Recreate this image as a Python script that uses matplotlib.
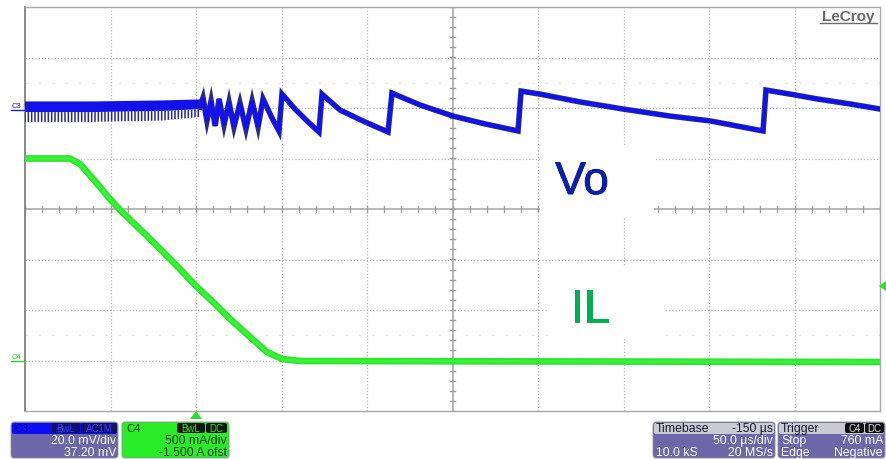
import numpy as np
import matplotlib
matplotlib.use("Agg")
import matplotlib.pyplot as plt
import matplotlib.patheffects as pe
from matplotlib.patches import Rectangle, FancyBboxPatch, Polygon

plt.rcParams['font.family'] = ['Liberation Sans', 'DejaVu Sans']
plt.rcParams['hatch.linewidth'] = 1.1

# ---------------- data (time in us relative to trigger) ----------------
# Vo (C3, AC coupled ripple, mV) - noisy steady-state envelope
vo_noise_t = [-100, -60, -20, 2.3]
vo_noise_core = [-1.6, -1.6, -1.2, -0.4]
vo_noise_upper = [2.6, 2.6, 3.0, 3.4]
vo_noise_lower = [-5.5, -5.5, -5.0, -3.5]

# Vo vertices after load release (burst / skip mode sawtooth)
vo_t = [2.3, 4.1, 6.4, 8.8, 11.2, 13.5, 16.4, 19.3, 22.2, 25.7, 29.2, 32.8,
        36.3, 39.2, 43.9, 48.5, 50.3, 57.9, 65.5, 71.9, 73.7, 84.2, 98.8,
        112.3, 114.6, 131.0, 150.3, 169.0, 188.3, 190.1, 201.2, 224.6, 249.7,
        277.2, 300.6, 331.6, 333.3, 347.4, 363.2, 382.5, 400.0]
vo_mv = [0.4, 4.0, -5.1, 2.8, -7.1, 3.6, -6.7, 2.4, -7.5, 2.0, -8.3, 2.8,
         -7.5, 3.6, -3.2, -9.1, 5.5, -0.4, -5.5, -9.5, 5.5, -0.8, -5.5,
         -9.5, 5.9, 1.2, -3.2, -6.3, -9.1, 6.7, 5.5, 2.4, -0.4,
         -3.2, -5.1, -9.1, 7.1, 5.5, 3.6, 1.6, -0.4]

# IL (C4, A)
il_t = [-100, -73.7, -67.8, -59.1, -50.3, -44.4, -26.9, -12.3, 0.0, 11.1,
        19.9, 31.6, 41.5, 50.3, 60.8, 400.0]
il_a = [2.00, 2.00, 1.945, 1.777, 1.599, 1.490, 1.203, 0.955, 0.738, 0.559,
        0.411, 0.233, 0.084, 0.015, -0.005, -0.015]

# scope settings
c3_scale, c3_pos = 20.0, 2.0      # mV/div, marker position (div)
c4_scale, c4_pos = 0.5, -3.0      # A/div, marker position (div)
trig_level = 0.76                 # A
t_left, t_div = -100.0, 50.0      # us

W, H = 886, 460
fig = plt.figure(figsize=(W / 100, H / 100), dpi=100)
fig.patch.set_facecolor('white')

# ---------------- main grid axes ----------------
ax = fig.add_axes([25 / W, 1 - 412 / H, 855 / W, 404 / H])
ax.set_xlim(t_left, t_left + 10 * t_div)
ax.set_ylim(-4, 4)
ax.set_xticks([]); ax.set_yticks([])
for s in ax.spines.values():
    s.set_color('#a8a8a8'); s.set_linewidth(1.0)
ax.spines['left'].set_color('#808080'); ax.spines['left'].set_linewidth(1.3)

gcol = '#b8b8b8'
for i in range(1, 10):
    tx = t_left + i * t_div
    if i == 5:
        ax.axvline(tx, color='#ababab', lw=1.2, zorder=1)
    else:
        ax.axvline(tx, color=gcol, lw=0.9, ls=(0, (1, 1.6)), zorder=1)
for j in range(-3, 4):
    if j == 0:
        ax.axhline(0, color='#ababab', lw=1.2, zorder=1)
    else:
        ax.axhline(j, color=gcol, lw=0.9, ls=(0, (1, 1.6)), zorder=1)
# faint sub markers
for yy in (2.5, -2.5):
    ax.axhline(yy, color='#e2e2e2', lw=0.8, ls=(0, (2, 10)), zorder=0.5)
# center ticks
tc = t_left + 5 * t_div
for tx in np.arange(t_left, t_left + 10 * t_div + 0.1, t_div / 5):
    ax.plot([tx, tx], [-0.05, 0.05], color='#a0a0a0', lw=1.0, zorder=1)
for yy in np.arange(-4, 4.01, 0.2):
    ax.plot([tc - 1.5, tc + 1.5], [yy, yy], color='#a0a0a0', lw=1.0, zorder=1)

# Vo trace
nt = np.array(vo_noise_t)
ax.fill_between(nt, np.array(vo_noise_lower) / c3_scale + c3_pos,
                np.array(vo_noise_core) / c3_scale + c3_pos,
                facecolor='none', edgecolor='#2a2a88', hatch='|||||', lw=0,
                zorder=3)
ax.fill_between(nt, np.array(vo_noise_core) / c3_scale + c3_pos,
                np.array(vo_noise_upper) / c3_scale + c3_pos,
                facecolor='#1212e8', edgecolor='none', zorder=4)
vy = np.array(vo_mv) / c3_scale + c3_pos
ax.plot(vo_t, vy, color='#2a2a8c', lw=4.0, solid_joinstyle='miter', zorder=4)
ax.plot(vo_t, vy, color='#1010f0', lw=2.6, solid_joinstyle='miter', zorder=5)

# IL trace
iy = np.array(il_a) / c4_scale + c4_pos
ax.plot(il_t, iy, color='#2ee62e', lw=4.8, zorder=4)
ax.plot(il_t, iy, color='#3cf03c', lw=2.0, zorder=5)

# ---------------- overlay in pixel coordinates ----------------
ov = fig.add_axes([0, 0, 1, 1], zorder=10)
ov.set_xlim(0, W); ov.set_ylim(H, 0)
ov.axis('off')
ov.patch.set_alpha(0)

# white boxes behind labels
ov.add_patch(Rectangle((540, 146), 114, 72, facecolor='white', edgecolor='none'))
ov.add_patch(Rectangle((549, 268), 116, 72, facecolor='white', edgecolor='none'))
ov.text(582, 183, 'Vo', color='#0a1ea8', fontsize=33, ha='center', va='center',
        path_effects=[pe.withStroke(linewidth=0.7, foreground='#0a1ea8')])
ov.text(590, 311, 'IL', color='#00b050', fontsize=33, ha='center', va='center',
        path_effects=[pe.withStroke(linewidth=0.7, foreground='#00b050')])

# LeCroy logo
ov.text(848, 17, 'LeCroy', color='#6a6a6a', fontsize=11, ha='center',
        va='center', fontweight='bold')
ov.plot([820, 877], [24, 24], color='#6a6a6a', lw=1.0)

# channel markers
ov.text(17, 110, 'C3', color='#2020c0', fontsize=5.5, ha='center', va='bottom')
ov.plot([11, 24], [111, 111], color='#2020c0', lw=1.0)
ov.text(17, 361, 'C4', color='#33cc33', fontsize=5.5, ha='center', va='bottom')
ov.plot([11, 24], [362, 362], color='#33cc33', lw=1.0)

# trigger markers
ov.add_patch(Polygon([[190, 420], [202, 420], [196, 412]], closed=True,
                     facecolor='#2ee02e', edgecolor='none'))
ov.add_patch(Polygon([[886, 282], [886, 292], [879, 287]], closed=True,
                     facecolor='#2ee02e', edgecolor='none'))


def box(x0, x1, y0, y1, fc, hdr=None):
    ov.add_patch(FancyBboxPatch((x0, y0), x1 - x0, y1 - y0,
                                boxstyle='round,pad=0,rounding_size=3',
                                facecolor=fc, edgecolor='#909090', lw=0.6))
    if hdr is not None:
        ov.add_patch(FancyBboxPatch((x0 + 1, y0 + 1), x1 - x0 - 2, 11,
                                    boxstyle='round,pad=0,rounding_size=2',
                                    facecolor=hdr, edgecolor='none'))


def tag(x0, x1, yc, txt, fc, tc):
    ov.add_patch(FancyBboxPatch((x0, yc - 5), x1 - x0, 10,
                                boxstyle='round,pad=0,rounding_size=2',
                                facecolor=fc, edgecolor='none'))
    ov.text((x0 + x1) / 2, yc + 0.5, txt, color=tc, fontsize=7, ha='center',
            va='center')


fs = 8.8
purple = '#6b67a9'
# C3
box(11, 118, 423, 459, purple, hdr='#0c0cf0')
ov.text(14, 429.5, 'C3', color='#00009a', fontsize=8, va='center')
tag(52, 80, 429, 'BwL', '#10106a', '#3838ff')
tag(81, 117, 429, 'AC1M', '#10106a', '#3838ff')
ov.text(116, 441, '20.0 mV/div', color='white', fontsize=fs, ha='right', va='center')
ov.text(116, 453, '37.20 mV', color='white', fontsize=fs, ha='right', va='center')
# C4
box(122, 229, 423, 459, '#28ec28')
ov.text(126, 429.5, 'C4', color='#104010', fontsize=8, va='center')
tag(177, 205, 429, 'BwL', '#0a1a0a', '#30e030')
tag(206, 227, 429, 'DC', '#0a1a0a', '#30e030')
ov.text(227, 441, '500 mA/div', color='#0f3a0f', fontsize=fs, ha='right', va='center')
ov.text(227, 453, '-1.500 A ofst', color='#0f3a0f', fontsize=fs, ha='right', va='center')
# Timebase
box(653, 775, 423, 459, purple, hdr='#cacad4')
ov.text(656, 429.5, 'Timebase', color='#1a1a2a', fontsize=fs, va='center')
ov.text(773, 429.5, '-150 µs', color='#1a1a2a', fontsize=fs, ha='right', va='center')
ov.text(773, 441, '50.0 µs/div', color='white', fontsize=fs, ha='right', va='center')
ov.text(656, 453, '10.0 kS', color='white', fontsize=fs, va='center')
ov.text(773, 453, '20 MS/s', color='white', fontsize=fs, ha='right', va='center')
# Trigger
box(778, 885, 423, 459, purple, hdr='#cacad4')
ov.text(781, 429.5, 'Trigger', color='#1a1a2a', fontsize=fs, va='center')
tag(845, 864, 429, 'C4', '#101010', '#e0e0e0')
tag(865, 884, 429, 'DC', '#101010', '#e0e0e0')
ov.text(781, 441, 'Stop', color='white', fontsize=fs, va='center')
ov.text(883, 441, '760 mA', color='white', fontsize=fs, ha='right', va='center')
ov.text(781, 453, 'Edge', color='white', fontsize=fs, va='center')
ov.text(883, 453, 'Negative', color='white', fontsize=fs, ha='right', va='center')

fig.savefig('out.png', dpi=100, facecolor='white')
